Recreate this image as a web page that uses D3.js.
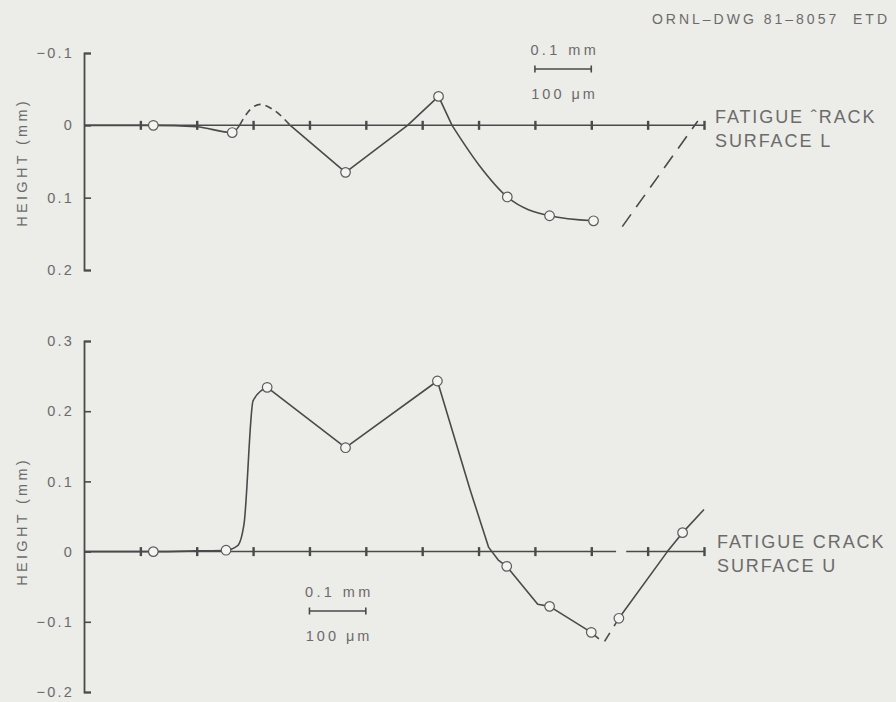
<!DOCTYPE html>
<html><head><meta charset="utf-8">
<script src="https://cdn.jsdelivr.net/npm/d3@7"></script>
<style>
html,body{margin:0;padding:0;background:#ecece9;}
svg{display:block;font-family:"Liberation Sans",Arial,sans-serif;}
</style></head><body>
<script>
// ---- data (x in mm along crack, height in mm) ----
const xTicks = [0.1,0.2,0.3,0.4,0.5,0.6,0.7,0.8,0.9,1.0];
const topYTicks = [-0.1, 0, 0.1, 0.2];
const botYTicks = [0.3, 0.2, 0.1, 0, -0.1, -0.2];

// Surface L (top panel) — positive heights plotted downward
const lSolidA = [[0,0],[0.123,0],[0.2,0.002],[0.263,0.01],[0.276,0]];
const lDashA  = [[0.276,0],[0.295,-0.022],[0.313,-0.029],[0.335,-0.022],[0.366,0]];
const lSolidB = [[0.366,0],[0.464,0.065],[0.574,0],[0.629,-0.04],[0.653,0]];
const lSolidC = [[0.653,0],[0.7,0.054],[0.751,0.099],[0.826,0.125],[0.904,0.132]];
const lDashB  = [[0.955,0.14],[1.089,-0.006]];
const lMarkers = [[0.123,0],[0.263,0.01],[0.464,0.065],[0.629,-0.04],[0.751,0.099],[0.826,0.125],[0.904,0.132]];

// Surface U (bottom panel)
const uRise   = [[0,0],[0.123,0],[0.2,0.001],[0.252,0.002],[0.272,0.008],[0.284,0.04],[0.3,0.215],[0.325,0.234]];
const uSolidA = [[0.325,0.234],[0.464,0.148],[0.627,0.243],[0.685,0.088],[0.718,0.006],[0.735,-0.012],[0.75,-0.021],[0.805,-0.075],[0.826,-0.078],[0.9,-0.115]];
const uDash   = [[0.9,-0.115],[0.922,-0.13],[0.949,-0.095]];
const uSolidB = [[0.949,-0.095],[1.035,0],[1.062,0.027],[1.1,0.06]];
const uMarkers = [[0.123,0],[0.252,0.002],[0.325,0.234],[0.464,0.148],[0.627,0.243],[0.75,-0.021],[0.826,-0.078],[0.9,-0.115],[0.949,-0.095],[1.062,0.027]];

const W = 896, H = 702;
const ink = "#4a4a4a", txt = "#6b6b6b", bg = "#ecece9";
const FONT = "Liberation Sans, Arial, sans-serif";

const svg = d3.select("body").append("svg").attr("width", W).attr("height", H);
svg.append("rect").attr("width", W).attr("height", H).attr("fill", bg);

const x = d3.scaleLinear().domain([0, 1.1]).range([84, 704]);
const yTop = d3.scaleLinear().domain([-0.1, 0.2]).range([53, 270]);
const yBot = d3.scaleLinear().domain([-0.2, 0.3]).range([692, 341]);

function panel(y, yTicks, gap) {
  const g = svg.append("g");
  const ax = d3.axisLeft(y).tickValues(yTicks).tickSizeInner(-7).tickSizeOuter(-7).tickPadding(10)
    .tickFormat(d => d === 0 ? "0" : d3.format(".1f")(d).replace("-", "\u2013"));
  const ga = g.append("g").attr("transform", "translate(84,0)").call(ax);
  ga.select(".domain").attr("stroke", ink).attr("stroke-width", 1.8);
  ga.selectAll(".tick line").attr("stroke", ink).attr("stroke-width", 1.6);
  ga.selectAll(".tick text").attr("fill", txt).attr("font-size", 14.5)
    .attr("font-family", FONT).attr("letter-spacing", 2.2);

  // crack line (zero baseline)
  const y0 = y(0);
  const segs = gap ? [[0, gap[0]], [gap[1], 1.1]] : [[0, 1.1]];
  segs.forEach(s => g.append("line").attr("x1", x(s[0])).attr("x2", x(s[1]))
    .attr("y1", y0).attr("y2", y0).attr("stroke", ink).attr("stroke-width", 1.5));
  const gx = g.append("g").attr("transform", `translate(0,${y0 - 4.5})`)
    .call(d3.axisBottom(x).tickValues(xTicks.concat([1.1])).tickSize(9).tickFormat(""));
  gx.select(".domain").remove();
  gx.selectAll(".tick line").attr("stroke", ink).attr("stroke-width", 2.4);
  return g;
}

const gT = panel(yTop, topYTicks, null);
const gB = panel(yBot, botYTicks, [0.944, 0.962]);

function curveLine(g, y, data, dashed, curve) {
  const line = d3.line().x(d => x(d[0])).y(d => y(d[1])).curve(curve || d3.curveLinear);
  g.append("path").datum(data).attr("d", line).attr("fill", "none")
    .attr("stroke", ink).attr("stroke-width", 1.6).attr("stroke-linejoin", "round")
    .attr("stroke-dasharray", dashed || null);
}

curveLine(gT, yTop, lSolidA, null, d3.curveMonotoneX);
curveLine(gT, yTop, lDashA, "7,5", d3.curveMonotoneX);
curveLine(gT, yTop, lSolidB);
curveLine(gT, yTop, lSolidC, null, d3.curveMonotoneX);
curveLine(gT, yTop, lDashB, "15,9");

curveLine(gB, yBot, uRise, null, d3.curveMonotoneX);
curveLine(gB, yBot, uSolidA);
curveLine(gB, yBot, uDash, "10,8");
curveLine(gB, yBot, uSolidB);

function markers(g, y, data) {
  g.selectAll("circle.m").data(data).enter().append("circle")
    .attr("cx", d => x(d[0])).attr("cy", d => y(d[1])).attr("r", 4.8)
    .attr("fill", "#f4f4f2").attr("stroke", "#5a5a5a").attr("stroke-width", 1.2);
}
markers(gT, yTop, lMarkers);
markers(gB, yBot, uMarkers);

// y-axis titles
function yTitle(cy) {
  svg.append("text").attr("transform", `translate(27,${cy}) rotate(-90)`)
    .attr("text-anchor", "middle").attr("fill", txt).attr("font-size", 14.5)
    .attr("letter-spacing", 3.3).attr("dx", 1.6).text("HEIGHT (mm)");
}
yTitle(164);
yTitle(523);

// scale bars
function scaleBar(x0, yb) {
  const xa = x(x0), xb = x(x0 + 0.1);
  const cx = (xa + xb) / 2;
  svg.append("text").attr("x", cx + 1.7).attr("y", yb - 14).attr("text-anchor", "middle")
    .attr("fill", txt).attr("font-size", 14.5).attr("letter-spacing", 3.4).text("0.1 mm");
  svg.append("line").attr("x1", xa).attr("x2", xb).attr("y1", yb).attr("y2", yb)
    .attr("stroke", ink).attr("stroke-width", 1.6);
  [xa, xb].forEach(v => svg.append("line").attr("x1", v).attr("x2", v)
    .attr("y1", yb - 3.5).attr("y2", yb + 3.5).attr("stroke", ink).attr("stroke-width", 1.6));
  svg.append("text").attr("x", cx + 1.5).attr("y", yb + 30).attr("text-anchor", "middle")
    .attr("fill", txt).attr("font-size", 14.5).attr("letter-spacing", 3).text("100 \u03bcm");
}
scaleBar(0.8, 69);
scaleBar(0.4, 611);

// surface labels
function surfLabel(x0, y0, l1, l2) {
  const t = svg.append("text").attr("fill", txt).attr("font-size", 18).attr("letter-spacing", 1.9);
  t.append("tspan").attr("x", x0).attr("y", y0).text(l1);
  t.append("tspan").attr("x", x0).attr("y", y0 + 24).text(l2);
}
surfLabel(715, 123, "FATIGUE \u02c6RACK", "SURFACE L");
surfLabel(717, 548, "FATIGUE CRACK", "SURFACE U");

svg.append("text").attr("x", 890).attr("y", 24).attr("text-anchor", "end")
  .attr("fill", txt).attr("font-size", 14).attr("letter-spacing", 3)
  .style("white-space", "pre").text("ORNL\u2013DWG 81\u20138057  ETD");
</script>
</body></html>
